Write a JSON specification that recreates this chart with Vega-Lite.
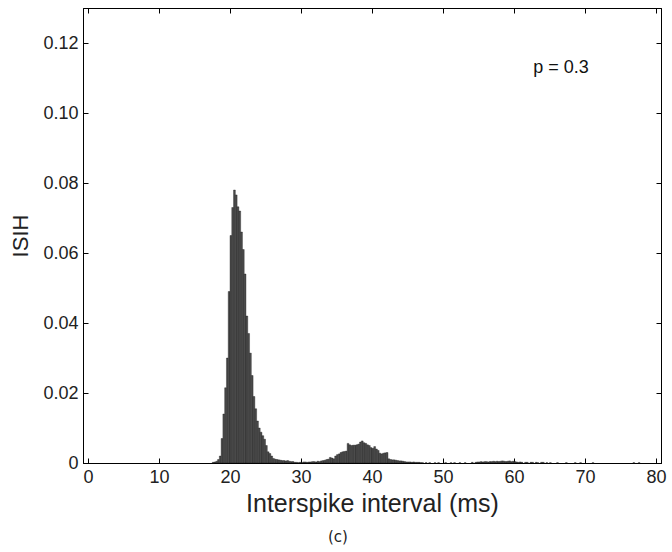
{
  "$schema": "https://vega.github.io/schema/vega-lite/v6.json",
  "width": 578,
  "height": 455,
  "autosize": {"type": "none"},
  "padding": {"left": 83, "top": 8, "right": 11, "bottom": 89},
  "background": "white",
  "config": {
    "view": {"stroke": "#000", "strokeWidth": 1},
    "font": "Liberation Sans",
    "axis": {"grid": false, "domainColor": "#000", "tickColor": "#000", "labelColor": "#222", "titleColor": "#222", "titleFontWeight": "normal", "labelFlush": false, "labelOverlap": false}
  },
  "title": {"text": "(c)", "orient": "bottom", "frame": "bounds", "anchor": "middle", "font": "DejaVu Sans", "fontSize": 15, "fontWeight": "normal", "color": "#222", "offset": 14},
  "data": {"values": [
    {"t": 17.625, "p": 0.0002}, {"t": 17.875, "p": 0.0003}, {"t": 18.125, "p": 0.0005}, {"t": 18.375, "p": 0.001},
    {"t": 18.625, "p": 0.002}, {"t": 18.875, "p": 0.007}, {"t": 19.125, "p": 0.014}, {"t": 19.375, "p": 0.0215},
    {"t": 19.625, "p": 0.03}, {"t": 19.875, "p": 0.049}, {"t": 20.125, "p": 0.065}, {"t": 20.375, "p": 0.073},
    {"t": 20.625, "p": 0.078}, {"t": 20.875, "p": 0.0766}, {"t": 21.125, "p": 0.0732}, {"t": 21.375, "p": 0.072},
    {"t": 21.625, "p": 0.066}, {"t": 21.875, "p": 0.061}, {"t": 22.125, "p": 0.054}, {"t": 22.375, "p": 0.042},
    {"t": 22.625, "p": 0.037}, {"t": 22.875, "p": 0.0314}, {"t": 23.125, "p": 0.025}, {"t": 23.375, "p": 0.019},
    {"t": 23.625, "p": 0.0155}, {"t": 23.875, "p": 0.012}, {"t": 24.125, "p": 0.01}, {"t": 24.375, "p": 0.0088},
    {"t": 24.625, "p": 0.0078}, {"t": 24.875, "p": 0.0068}, {"t": 25.125, "p": 0.005}, {"t": 25.375, "p": 0.0032},
    {"t": 25.625, "p": 0.0027}, {"t": 25.875, "p": 0.002}, {"t": 26.125, "p": 0.0013}, {"t": 26.375, "p": 0.0011},
    {"t": 26.625, "p": 0.001}, {"t": 26.875, "p": 0.0009}, {"t": 27.125, "p": 0.0008}, {"t": 27.375, "p": 0.0007},
    {"t": 27.625, "p": 0.0007}, {"t": 27.875, "p": 0.0006}, {"t": 28.125, "p": 0.0007}, {"t": 28.375, "p": 0.0005},
    {"t": 28.625, "p": 0.0004}, {"t": 28.875, "p": 0.0004}, {"t": 29.125, "p": 0.0002}, {"t": 29.375, "p": 0.0002},
    {"t": 29.625, "p": 0.0001}, {"t": 29.875, "p": 0.0002}, {"t": 30.125, "p": 0.0001}, {"t": 30.375, "p": 0.0003},
    {"t": 30.625, "p": 0.0003}, {"t": 30.875, "p": 0.0002}, {"t": 31.125, "p": 0.0003}, {"t": 31.375, "p": 0.0003},
    {"t": 31.625, "p": 0.0004}, {"t": 31.875, "p": 0.0004}, {"t": 32.125, "p": 0.0003}, {"t": 32.375, "p": 0.0005},
    {"t": 32.625, "p": 0.0004}, {"t": 32.875, "p": 0.0006}, {"t": 33.125, "p": 0.0007}, {"t": 33.375, "p": 0.0008},
    {"t": 33.625, "p": 0.001}, {"t": 33.875, "p": 0.0011}, {"t": 34.125, "p": 0.0016}, {"t": 34.375, "p": 0.0014},
    {"t": 34.625, "p": 0.0012}, {"t": 34.875, "p": 0.002}, {"t": 35.125, "p": 0.0024}, {"t": 35.375, "p": 0.0026},
    {"t": 35.625, "p": 0.003}, {"t": 35.875, "p": 0.0032}, {"t": 36.125, "p": 0.0033}, {"t": 36.375, "p": 0.0034},
    {"t": 36.625, "p": 0.0056}, {"t": 36.875, "p": 0.0052}, {"t": 37.125, "p": 0.005}, {"t": 37.375, "p": 0.0051},
    {"t": 37.625, "p": 0.0051}, {"t": 37.875, "p": 0.0052}, {"t": 38.125, "p": 0.0054}, {"t": 38.375, "p": 0.006},
    {"t": 38.625, "p": 0.0063}, {"t": 38.875, "p": 0.0058}, {"t": 39.125, "p": 0.0056}, {"t": 39.375, "p": 0.0052},
    {"t": 39.625, "p": 0.005}, {"t": 39.875, "p": 0.0044}, {"t": 40.125, "p": 0.0042}, {"t": 40.375, "p": 0.0047},
    {"t": 40.625, "p": 0.004}, {"t": 40.875, "p": 0.0036}, {"t": 41.125, "p": 0.0028}, {"t": 41.375, "p": 0.0026},
    {"t": 41.625, "p": 0.0028}, {"t": 41.875, "p": 0.0029}, {"t": 42.125, "p": 0.003}, {"t": 42.375, "p": 0.0012},
    {"t": 42.625, "p": 0.001}, {"t": 42.875, "p": 0.0009}, {"t": 43.125, "p": 0.0009}, {"t": 43.375, "p": 0.0008},
    {"t": 43.625, "p": 0.0007}, {"t": 43.875, "p": 0.0006}, {"t": 44.125, "p": 0.0006}, {"t": 44.375, "p": 0.0005},
    {"t": 44.625, "p": 0.0004}, {"t": 44.875, "p": 0.0003}, {"t": 45.125, "p": 0.0003}, {"t": 45.375, "p": 0.0003},
    {"t": 45.625, "p": 0.0002}, {"t": 45.875, "p": 0.0003}, {"t": 46.125, "p": 0.0002}, {"t": 46.375, "p": 0.0002},
    {"t": 46.625, "p": 0.0002}, {"t": 46.875, "p": 0.0001}, {"t": 47.125, "p": 0.0001}, {"t": 47.625, "p": 0.0001},
    {"t": 48.125, "p": 0.0001}, {"t": 48.875, "p": 0.0001}, {"t": 49.375, "p": 0.0001}, {"t": 50.375, "p": 0.0001},
    {"t": 51.125, "p": 0.0001}, {"t": 51.625, "p": 0.0001}, {"t": 52.375, "p": 0.0001}, {"t": 53.125, "p": 0.0001},
    {"t": 54.125, "p": 0.0002}, {"t": 54.625, "p": 0.0002}, {"t": 54.875, "p": 0.0003}, {"t": 55.125, "p": 0.0003},
    {"t": 55.375, "p": 0.0004}, {"t": 55.625, "p": 0.0003}, {"t": 55.875, "p": 0.0004}, {"t": 56.125, "p": 0.0004},
    {"t": 56.375, "p": 0.0003}, {"t": 56.625, "p": 0.0004}, {"t": 56.875, "p": 0.0004}, {"t": 57.125, "p": 0.0005},
    {"t": 57.375, "p": 0.0004}, {"t": 57.625, "p": 0.0005}, {"t": 57.875, "p": 0.0004}, {"t": 58.125, "p": 0.0005},
    {"t": 58.375, "p": 0.0006}, {"t": 58.625, "p": 0.0005}, {"t": 58.875, "p": 0.0004}, {"t": 59.125, "p": 0.0005},
    {"t": 59.375, "p": 0.0006}, {"t": 59.625, "p": 0.0004}, {"t": 59.875, "p": 0.0005}, {"t": 60.125, "p": 0.0004},
    {"t": 60.375, "p": 0.0003}, {"t": 60.625, "p": 0.0002}, {"t": 60.875, "p": 0.0003}, {"t": 61.125, "p": 0.0002},
    {"t": 61.625, "p": 0.0002}, {"t": 61.875, "p": 0.0002}, {"t": 62.375, "p": 0.0002}, {"t": 62.625, "p": 0.0002},
    {"t": 63.125, "p": 0.0002}, {"t": 63.375, "p": 0.0001}, {"t": 63.875, "p": 0.0002}, {"t": 64.125, "p": 0.0002},
    {"t": 64.625, "p": 0.0001}, {"t": 65.125, "p": 0.0001}, {"t": 66.125, "p": 0.0001}, {"t": 67.375, "p": 0.0001},
    {"t": 68.625, "p": 0.0001}, {"t": 69.375, "p": 0.0001}, {"t": 71.125, "p": 0.0001}, {"t": 76.875, "p": 0.0001},
    {"t": 77.625, "p": 0.0001}
  ]},
  "layer": [
    {
      "mark": {"type": "bar", "size": 1.8, "fill": "#4d4d4d", "stroke": "#111", "strokeWidth": 0.35},
      "encoding": {
        "x": {"field": "t", "type": "quantitative", "scale": {"domain": [0, 80], "nice": false, "zero": false},
          "axis": {"orient": "bottom", "values": [0, 10, 20, 30, 40, 50, 60, 70, 80], "tickSize": -5, "labelPadding": 10, "labelFontSize": 18, "title": "Interspike interval (ms)", "titleFontSize": 25, "titlePadding": 5}},
        "y": {"field": "p", "type": "quantitative", "stack": null, "scale": {"domain": [0, 0.13], "nice": false},
          "axis": {"orient": "left", "values": [0, 0.02, 0.04, 0.06, 0.08, 0.1, 0.12], "labelExpr": "datum.value == 0 ? '0' : format(datum.value, '.2f')", "tickSize": -5, "labelPadding": 10, "labelFontSize": 18, "title": "ISIH", "titleFontSize": 22, "titlePadding": 10}}
      }
    },
    {
      "data": {"values": [{"label": "p = 0.3"}]},
      "mark": {"type": "text", "align": "left", "baseline": "middle", "fontSize": 18, "color": "#111"},
      "encoding": {
        "text": {"field": "label"},
        "x": {"datum": 62.7, "type": "quantitative",
          "axis": {"orient": "top", "values": [0, 10, 20, 30, 40, 50, 60, 70, 80], "tickSize": -5, "labels": false, "title": null}},
        "y": {"datum": 0.113, "type": "quantitative",
          "axis": {"orient": "right", "values": [0, 0.02, 0.04, 0.06, 0.08, 0.1, 0.12], "tickSize": -5, "labels": false, "title": null}}
      }
    }
  ],
  "resolve": {"axis": {"x": "independent", "y": "independent"}}
}
